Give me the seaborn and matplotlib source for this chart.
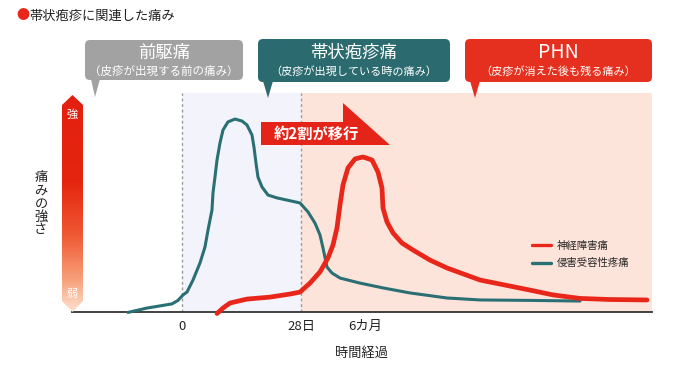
import numpy as np
import pandas as pd
import matplotlib
matplotlib.use("Agg")
import matplotlib.pyplot as plt
import seaborn as sns
from matplotlib.patches import FancyBboxPatch, Polygon
from matplotlib.colors import LinearSegmentedColormap

# time axis (0 = rash onset, 28 = 28 days, 43 = 6 months), pain intensity 0-100
teal_t = [-12.71, -8.24, -2.35, -0.94, 0.24, 1.18, 2.59, 4.24, 5.41, 6.12, 7.06, 7.29,
          7.76, 8.24, 8.94, 9.65, 10.82, 12.47, 14.12, 15.29, 16.47, 16.94, 17.41,
          17.88, 18.82, 20.24, 22.35, 24.71, 27.76, 29.65, 31.29, 32.47, 33.18, 34.12,
          35.29, 37.18, 41.88, 47.29, 53.65, 62.35, 70.12, 81.88, 93.65]
teal_pain = [-0.2, 1.8, 3.7, 5.3, 7.8, 9.1, 14.6, 22.4, 29.7, 37.4, 46.6, 54.3,
             61.6, 69.4, 77.2, 83.1, 86.8, 88.1, 87.2, 85.4, 80.8, 75.3, 68.0,
             61.6, 57.1, 53.4, 52.1, 51.1, 49.8, 45.7, 40.6, 35.2, 29.2, 20.5,
             17.8, 15.5, 13.2, 11.0, 8.7, 6.4, 5.5, 5.3, 5.0]

red_t = [8.24, 9.65, 11.29, 15.29, 20.71, 25.41, 27.76, 30.12, 32.47, 34.35, 35.53,
         36.47, 37.18, 37.88, 39.06, 40.71, 42.59, 44.71, 46.12, 47.06, 47.29, 48.24,
         49.65, 51.76, 54.35, 58.35, 62.35, 70.12, 81.88, 87.29, 93.65, 100.71, 109.41]
red_pain = [-0.7, 1.8, 4.1, 5.9, 6.8, 8.2, 9.1, 13.2, 18.3, 24.7, 30.6,
            38.4, 48.9, 58.0, 65.8, 69.9, 70.8, 69.4, 63.9, 56.6, 47.5, 41.1,
            36.1, 31.5, 28.3, 23.7, 20.1, 14.6, 10.0, 7.8, 6.2, 5.7, 5.5]

tick_pos = [0, 28, 43]
tick_labels = ["0", "28日", "6カ月"]
labels = ["神経障害痛", "侵害受容性疼痛"]

RED = "#e8261a"
TEAL = "#2a6f74"

sns.set_theme(style="white")
plt.rcParams["font.family"] = ["Noto Sans CJK JP", "DejaVu Sans"]

fig = plt.figure(figsize=(6.75, 3.66), dpi=100)
ax = fig.add_axes([72 / 675, 54 / 366, 580 / 675, 219 / 366])
ax.set_xlim(-25.88, 110.59)
ax.set_ylim(0, 100)

# phase backgrounds
ax.axvspan(0, 28, color="#f3f3fb", lw=0, zorder=0)
ax.axvspan(28, 111, color="#fde4da", lw=0, zorder=0)
for xv in [0, 28]:
    ax.axvline(xv, color="#9a9a9a", lw=1, ls=(0, (2, 2)), zorder=1)

teal_df = pd.DataFrame({"t": teal_t, "pain": teal_pain})
red_df = pd.DataFrame({"t": red_t, "pain": red_pain})
sns.lineplot(data=teal_df, x="t", y="pain", color=TEAL, lw=2.2, sort=False,
             estimator=None, ax=ax, label=labels[1], zorder=3)
sns.lineplot(data=red_df, x="t", y="pain", color=RED, lw=3.4, sort=False,
             estimator=None, ax=ax, label=labels[0], zorder=4)
for ln in ax.lines[-2:]:
    ln.set_solid_capstyle("round")
    ln.set_solid_joinstyle("round")
    ln.set_clip_on(False)

h, l = ax.get_legend_handles_labels()
leg = ax.legend([h[1], h[0]], [l[1], l[0]], loc="upper left", frameon=False,
                bbox_to_anchor=(532 / 675, 1 - 241 / 366), bbox_transform=fig.transFigure,
                borderaxespad=0, borderpad=0, fontsize=7.5, handlelength=1.8,
                handletextpad=0.6, labelspacing=0.7)
for lh in leg.get_lines():
    lh.set_linewidth(2.4)

for s in ["left", "top", "right"]:
    ax.spines[s].set_visible(False)
ax.spines["bottom"].set_color("#333333")
ax.spines["bottom"].set_linewidth(1.3)
ax.set_yticks([])
ax.set_xticks(tick_pos)
ax.set_xticklabels(tick_labels, fontsize=9.5, color="#222222")
ax.tick_params(axis="x", length=0, pad=6)
ax.set_xlabel("")
ax.set_ylabel("")

# overlay in pixel space for the annotations
ov = fig.add_axes([0, 0, 1, 1], zorder=5)
ov.set_xlim(0, 675)
ov.set_ylim(366, 0)
ov.axis("off")
ov.patch.set_alpha(0)

ov.text(16, 16, "●", color=RED, fontsize=9.5, ha="left", va="center")
ov.text(29, 16, "帯状疱疹に関連した痛み", color="#222222", fontsize=9.5, ha="left", va="center")

# gradient intensity arrow
cmap = LinearSegmentedColormap.from_list("pain", [
    (0.0, "#e3200f"), (0.4, "#e5250f"), (0.65, "#ef5a35"),
    (0.85, "#f7a07a"), (1.0, "#fde2d0")])
grad = np.linspace(0, 1, 256).reshape(-1, 1)
im = ov.imshow(grad, cmap=cmap, aspect="auto", extent=(62, 83, 312, 95), zorder=2)
arrow_poly = Polygon([(62, 105), (72.5, 95), (83, 105), (83, 301), (72.5, 312), (62, 301)],
                     closed=True, fc="none", ec="none")
ov.add_patch(arrow_poly)
im.set_clip_path(arrow_poly)
ov.text(72.5, 115, "強", color="white", fontsize=8, ha="center", va="center", zorder=3)
ov.text(72.5, 294, "弱", color="white", fontsize=8, ha="center", va="center", zorder=3)
ov.text(41, 204, "\n".join("痛みの強さ"), color="#222222", fontsize=9.5,
        ha="center", va="center", linespacing=1.0)

# callout boxes
boxes = [
    (85, 40, 158, 40, "#a2a2a2", "前駆痛", "（皮疹が出現する前の痛み）", 12.5, 8.3,
     [(91, 79), (100, 79), (95, 97)]),
    (258, 39, 192, 43, "#2b6b70", "帯状疱疹痛", "（皮疹が出現している時の痛み）", 12.5, 8,
     [(263, 81), (273, 81), (268, 98)]),
    (465, 39, 187, 43, "#e5301f", "PHN", "（皮疹が消えた後も残る痛み）", 14, 8,
     [(470, 81), (480, 81), (475, 98)]),
]
for x0, y0, w, hh, col, title, sub, fs1, fs2, tri in boxes:
    ov.add_patch(FancyBboxPatch((x0, y0), w, hh, boxstyle="round,pad=0,rounding_size=5",
                                fc=col, ec="none"))
    ov.add_patch(Polygon(tri, closed=True, fc=col, ec="none"))
    ov.text(x0 + w / 2, 53, title, color="white", fontsize=fs1, ha="center", va="center")
    ov.text(x0 + w / 2, 71, sub, color="white", fontsize=fs2, ha="center", va="center")

# transition arrow
ov.add_patch(Polygon([(261, 122), (343, 122), (343, 103), (390, 145), (261, 145)],
                     closed=True, fc="#e42418", ec="none"))
ov.text(316, 134, "約2割が移行", color="white", fontsize=11, fontweight="bold",
        ha="center", va="center")

ov.text(362, 353, "時間経過", color="#222222", fontsize=9.5, ha="center", va="center")

fig.savefig("out.png", dpi=100)
